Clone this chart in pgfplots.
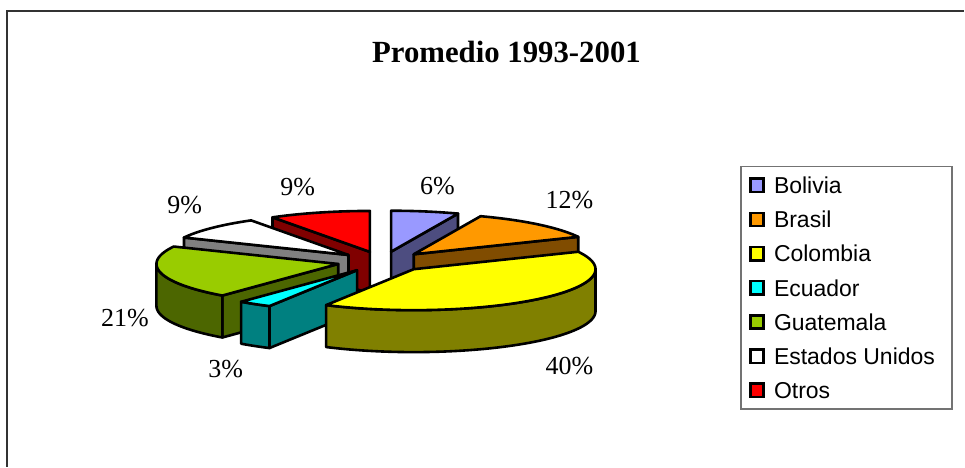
\documentclass[border=0pt]{standalone}
\usepackage{fontspec}
\setmainfont{Liberation Serif}
\newfontfamily\legfont{Liberation Sans}
\usepackage{pgfplots}
\usepackage{pgfplotstable}
\pgfplotsset{compat=1.18}

\definecolor{bolT}{HTML}{9999FF}\definecolor{bolS}{HTML}{4D4D80}
\definecolor{braT}{HTML}{FF9900}\definecolor{braS}{HTML}{804C00}
\definecolor{colT}{HTML}{FFFF00}\definecolor{colS}{HTML}{808000}
\definecolor{ecuT}{HTML}{00FFFF}\definecolor{ecuS}{HTML}{008080}
\definecolor{guaT}{HTML}{99CC00}\definecolor{guaS}{HTML}{4C6600}
\definecolor{eeuT}{HTML}{FFFFFF}\definecolor{eeuS}{HTML}{808080}
\definecolor{otrT}{HTML}{FF0000}\definecolor{otrS}{HTML}{800000}

% percentages of each country (clockwise from 12 o'clock)
\pgfplotstableread{
pais pct
Bolivia 6
Brasil 12
Colombia 40
Ecuador 3
Guatemala 21
EEUU 9
Otros 9
}\piedata

% geometry of the 3-D pie (pixel units)
\def\cx{383}\def\cy{262}\def\ra{182}\def\rb{41}\def\hh{42}\def\ef{0.25}
\def\lw{1.3pt}

\newcommand\arcpts[5]{% start, end, ox, oy, dy -> append to \pts
  \pgfmathtruncatemacro\nseg{max(2,abs(#2-#1)/2)}%
  \foreach \k in {0,...,\nseg}{%
    \pgfmathsetmacro\tang{#1+(#2-#1)*\k/\nseg}%
    \pgfmathsetmacro\pxx{#3+\ra*sin(\tang)}%
    \pgfmathsetmacro\pyy{#4-\rb*cos(\tang)+#5}%
    \xdef\pts{\pts(\pxx,\pyy) }%
  }%
}
\newcommand\radface[2]{% angle, colour
  \pgfmathsetmacro\rx{\ox+\ra*sin(#1)}%
  \pgfmathsetmacro\ry{\oy-\rb*cos(#1)}%
  \pgfmathsetmacro\oyh{\oy+\hh}%
  \pgfmathsetmacro\ryh{\ry+\hh}%
  \edef\tmp{\noexpand\addplot[mark=none,fill=#2,draw=black,line width=\lw,line join=round] coordinates {(\ox,\oy) (\rx,\ry) (\rx,\ryh) (\ox,\oyh)} -- cycle;}\tmp
}
\newcommand\slice[4]{% start, end, top colour, side colour
  \pgfmathsetmacro\midang{(#1+#2)/2}%
  \pgfmathsetmacro\ox{\cx+\ef*\ra*sin(\midang)}%
  \pgfmathsetmacro\oy{\cy-\ef*\rb*cos(\midang)}%
  \pgfmathtruncatemacro\flag{sin(#1)<-0.01}%
  \ifnum\flag=1 \radface{#1}{#4}\fi
  \pgfmathtruncatemacro\flag{sin(#2)>0.01}%
  \ifnum\flag=1 \radface{#2}{#4}\fi
  \pgfmathsetmacro\sidA{max(#1,90)}%
  \pgfmathsetmacro\sidB{min(#2,270)}%
  \pgfmathtruncatemacro\flag{\sidB>\sidA}%
  \ifnum\flag=1
    \gdef\pts{}%
    \arcpts{\sidA}{\sidB}{\ox}{\oy}{0}%
    \arcpts{\sidB}{\sidA}{\ox}{\oy}{\hh}%
    \edef\tmp{\noexpand\addplot[mark=none,fill=#4,draw=black,line width=\lw,line join=round] coordinates {\pts} -- cycle;}\tmp
  \fi
  \xdef\pts{(\ox,\oy) }%
  \arcpts{#1}{#2}{\ox}{\oy}{0}%
  \edef\tmp{\noexpand\addplot[mark=none,fill=#3,draw=black,line width=\lw,line join=round] coordinates {\pts} -- cycle;}\tmp
}

\begin{document}
\begin{tikzpicture}
% cumulative angles from the data
\def\aA{0}
\pgfplotstablegetelem{0}{pct}\of\piedata \pgfmathsetmacro\aB{\aA+3.6*\pgfplotsretval}
\pgfplotstablegetelem{1}{pct}\of\piedata \pgfmathsetmacro\aC{\aB+3.6*\pgfplotsretval}
\pgfplotstablegetelem{2}{pct}\of\piedata \pgfmathsetmacro\aD{\aC+3.6*\pgfplotsretval}
\pgfplotstablegetelem{3}{pct}\of\piedata \pgfmathsetmacro\aE{\aD+3.6*\pgfplotsretval}
\pgfplotstablegetelem{4}{pct}\of\piedata \pgfmathsetmacro\aF{\aE+3.6*\pgfplotsretval}
\pgfplotstablegetelem{5}{pct}\of\piedata \pgfmathsetmacro\aG{\aF+3.6*\pgfplotsretval}
\pgfplotstablegetelem{6}{pct}\of\piedata \pgfmathsetmacro\aH{\aG+3.6*\pgfplotsretval}
\begin{axis}[
  x=0.5pt, y=0.5pt, y dir=reverse,
  xmin=0, xmax=965, ymin=0, ymax=467,
  scale only axis, hide axis, clip=false,
  legend image code/.code={\draw[#1,line width=1.3pt] (0pt,-3.35pt) rectangle (6.7pt,3.35pt);},
  legend cell align=left,
  legend style={
    at={(axis description cs:0.7679,0.6445)}, anchor=north west,
    draw=black!55, line width=0.8pt, fill=white,
    inner xsep=4pt, inner ysep=0.8pt,
    font=\legfont\fontsize{11.5}{13}\selectfont,
    row sep=0pt,
    nodes={inner sep=0pt, text height=12.67pt, text depth=4.43pt},
    /tikz/every odd column/.append style={column sep=4.5pt},
  },
]
\path (axis cs:0,0) rectangle (axis cs:965,467);
\addlegendimage{fill=bolT,draw=black}\addlegendentry{Bolivia}
\addlegendimage{fill=braT,draw=black}\addlegendentry{Brasil}
\addlegendimage{fill=colT,draw=black}\addlegendentry{Colombia}
\addlegendimage{fill=ecuT,draw=black}\addlegendentry{Ecuador}
\addlegendimage{fill=guaT,draw=black}\addlegendentry{Guatemala}
\addlegendimage{fill=eeuT,draw=black}\addlegendentry{Estados Unidos\hspace*{4.5pt}}
\addlegendimage{fill=otrT,draw=black}\addlegendentry{Otros}

% slices, back to front
\slice{\aA}{\aB}{bolT}{bolS}
\slice{\aG}{\aH}{otrT}{otrS}
\slice{\aB}{\aC}{braT}{braS}
\slice{\aF}{\aG}{eeuT}{eeuS}
\slice{\aE}{\aF}{guaT}{guaS}
\slice{\aD}{\aE}{ecuT}{ecuS}
\slice{\aC}{\aD}{colT}{colS}

% frame and texts
\draw[black!80, line width=1pt] (axis cs:7,467) -- (axis cs:7,11.5) -- (axis cs:965,11.5);
\node[font=\bfseries\fontsize{15.4}{18}\selectfont, anchor=base] at (axis cs:507,63) {Promedio 1993-2001};
\node[font=\fontsize{13}{15}\selectfont] at (axis cs:438,186) {6\%};
\node[font=\fontsize{13}{15}\selectfont] at (axis cs:570,200) {12\%};
\node[font=\fontsize{13}{15}\selectfont] at (axis cs:570,366) {40\%};
\node[font=\fontsize{13}{15}\selectfont] at (axis cs:226,369) {3\%};
\node[font=\fontsize{13}{15}\selectfont] at (axis cs:125,318) {21\%};
\node[font=\fontsize{13}{15}\selectfont] at (axis cs:185,205) {9\%};
\node[font=\fontsize{13}{15}\selectfont] at (axis cs:298,187) {9\%};
\end{axis}
\end{tikzpicture}
\end{document}
